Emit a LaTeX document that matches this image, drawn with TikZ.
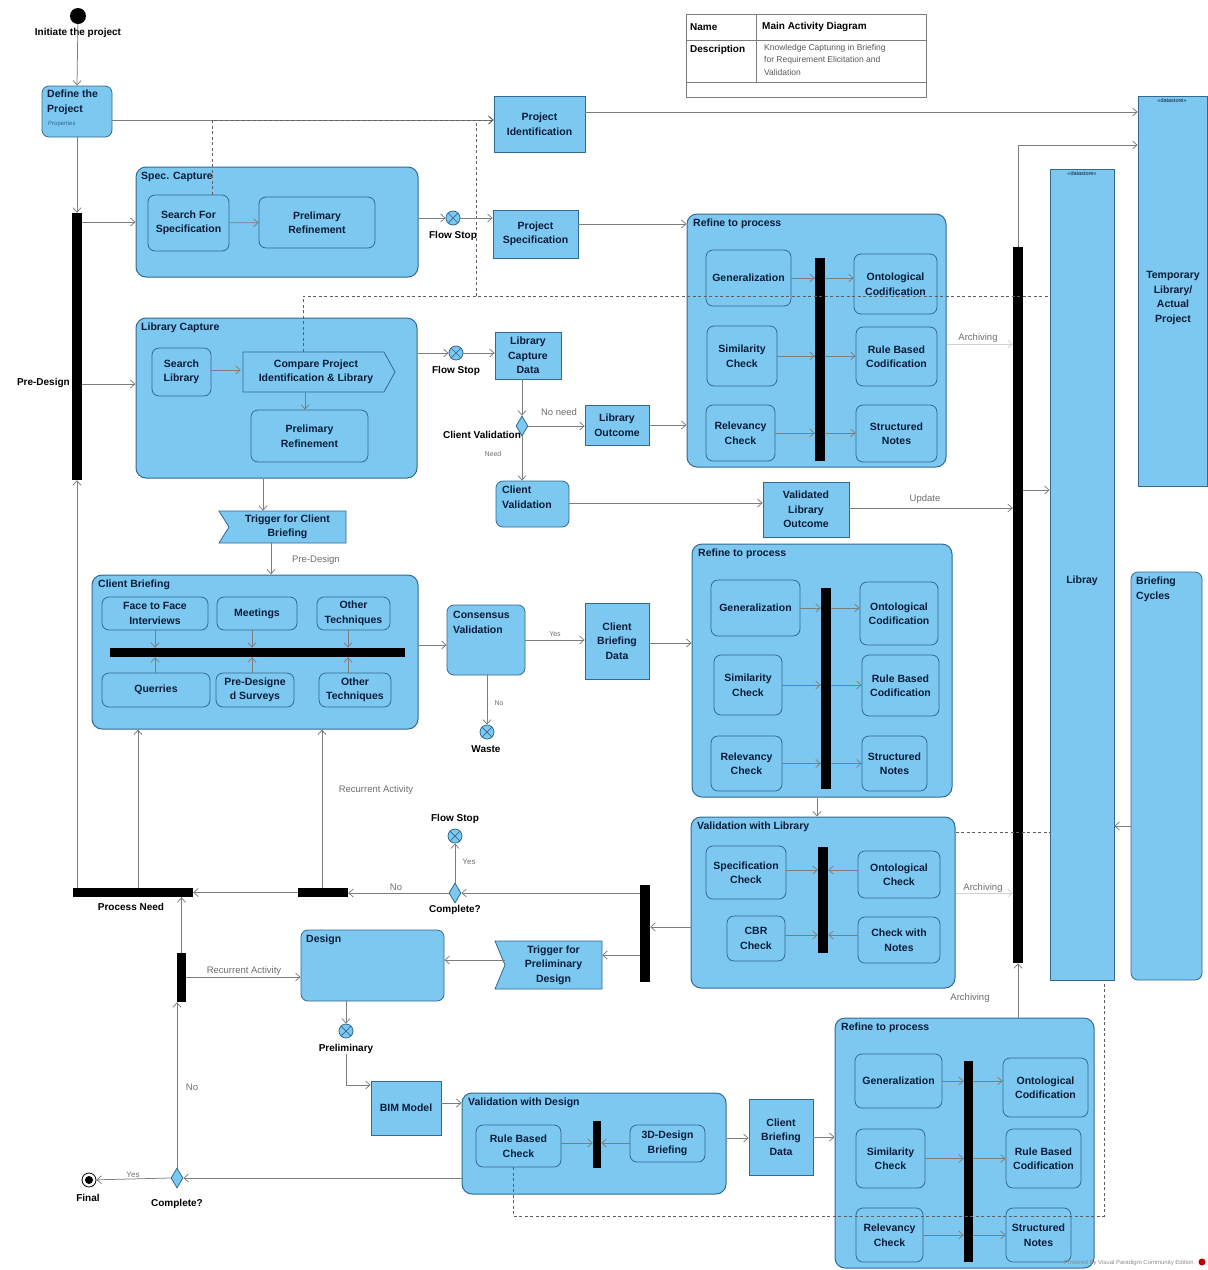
\documentclass[tikz,border=0pt]{standalone}
\usepackage{fontspec}
\setmainfont{Liberation Sans}
\usetikzlibrary{arrows.meta,shapes.geometric}

\definecolor{fl}{RGB}{125,200,240}
\definecolor{bd}{RGB}{50,105,145}
\definecolor{tx}{RGB}{8,28,58}
\definecolor{ln}{RGB}{125,125,125}
\definecolor{dl}{RGB}{95,95,95}
\definecolor{el}{RGB}{110,110,110}

% box spanning x1..x2, y1..y2 (pixel-like units, y downwards)
\newcommand\boxat[7]{\node[#1, minimum width={#5-#3}, minimum height={#6-#4}] (#2) at ({(#3+#5)/2},{(#4+#6)/2}) {#7};}
% flow final node: circle with a cross
\newcommand\flowstop[3]{\node[fstop] (#1) at (#2,#3) {};
  \draw[bd, line width=0.7pt] (#1.north west) -- (#1.south east) (#1.north east) -- (#1.south west);}
% signal-like object with a notch on its left side
\newcommand\flagat[6]{\draw[flag] (#2,#3) -- (#4,#3) -- (#4,#5) -- (#2,#5) -- ({#2+10},{(#3+#5)/2}) -- cycle;
  \node[base, minimum width={#4-#2-10}, minimum height={#5-#3}] (#1) at ({(#2+#4)/2+5},{(#3+#5)/2}) {#6};}

\tikzset{
  base/.style={inner sep=1pt, align=center, text=tx, font=\fontsize{10.5}{14.5}\selectfont\bfseries},
  act/.style={base, draw=bd, fill=fl, line width=0.8pt, rounded corners=7pt},
  obj/.style={base, draw=bd, fill=fl, line width=0.8pt},
  grp/.style={draw=bd, fill=fl, line width=1pt, rounded corners=10pt, inner sep=0pt},
  store/.style={draw=bd, fill=fl, line width=0.8pt, inner sep=0pt},
  bar/.style={fill=black, draw=none, inner sep=0pt},
  ttl/.style={inner sep=0pt, anchor=north west, align=left, text=tx, font=\fontsize{10.5}{14.5}\selectfont\bfseries},
  blbl/.style={inner sep=0pt, text=black, font=\fontsize{10}{11}\selectfont\bfseries},
  elbl/.style={inner sep=0pt, text=el, font=\fontsize{9.5}{11}\selectfont},
  conn/.style={draw=ln, line width=0.75pt, -{Straight Barb[length=4.5pt,width=8pt]}},
  faint/.style={draw=ln!35},
  dconn/.style={draw=dl, line width=0.75pt, dash pattern=on 3pt off 2.5pt},
  fstop/.style={circle, draw=bd, fill=fl, line width=0.8pt, minimum size=14pt, inner sep=0pt},
  dec/.style={diamond, draw=bd, fill=fl, line width=0.8pt, minimum width=12pt, minimum height=20pt, inner sep=0pt},
  flag/.style={draw=bd, fill=fl, line width=0.8pt},
  stlbl/.style={inner sep=0pt, text=tx, font=\fontsize{5.5}{6}\selectfont},
}

\begin{document}
\begin{tikzpicture}[x=1pt,y=-1pt]
\fill[white] (0,0) rectangle (1208,1270);
\useasboundingbox (0,0) rectangle (1208,1270);

% ---------- title table ----------
\draw[ln, line width=0.8pt] (686,14) rectangle (926,97);
\draw[ln, line width=0.6pt] (686,40) -- (926,40) (686,82) -- (926,82) (756,14) -- (756,82);
\node[blbl, anchor=west] (tname) at (690,27) {Name};
\node[blbl, anchor=west] (tnameval) at (762,27) {Main Activity Diagram};
\node[blbl, anchor=north west] (tdesc) at (690,45) {Description};
\node[inner sep=0pt, anchor=north west, align=left, text=black!65,
      font=\fontsize{8.5}{12.5}\selectfont] (tdescval) at (764,44)
      {Knowledge Capturing in Briefing\\for Requirement Elicitation and\\Validation};

% ---------- datastores and cycles column ----------
\boxat{store}{tmplib}{1138}{96}{1207}{486}{}
\node[stlbl] (tmplibst) at (1172,101) {«datastore»};
\node[base] (tmplibtxt) at (1173,298) {Temporary\\Library/\\Actual\\Project};
\boxat{store}{libcol}{1050}{169}{1114}{980}{}
\node[stlbl] (libcolst) at (1082,174) {«datastore»};
\node[base] (libcoltxt) at (1082,581) {Libray};
\boxat{act}{brief}{1131}{572}{1202}{980}{}
\node[ttl] (brieftxt) at (1136,577) {Briefing\\Cycles};

% ---------- start ----------
\node[circle, fill=black, minimum size=16pt, inner sep=0pt] (init) at (78,16) {};
\node[blbl] (initlbl) at (78,33) {Initiate the project};
\boxat{act}{define}{42}{86}{112}{137}{}
\node[ttl] (definetxt) at (47,90) {Define the\\Project};
\node[inner sep=0pt, anchor=north west, text=bd, font=\fontsize{6}{7}\selectfont] (defineprop) at (48,121) {Properties};

\boxat{obj}{pid}{494}{96}{585}{152}{Project\\Identification}

% ---------- Pre-Design fork ----------
\boxat{bar}{pdbar}{72}{213}{82}{480}{}
\node[blbl, anchor=east] (pdlbl) at (70,383) {Pre-Design};

% ---------- Spec. Capture ----------
\boxat{grp}{specgrp}{136}{167}{418}{277}{}
\node[ttl] (specttl) at (141,172) {Spec. Capture};
\boxat{act}{ssearch}{148}{195}{229}{251}{Search For\\Specification}
\boxat{act}{sprelim}{259}{197}{375}{248}{Prelimary\\Refinement}
\flowstop{fs1}{453}{218}
\node[blbl] (fs1lbl) at (453,236) {Flow Stop};
\boxat{obj}{pspec}{493}{210}{578}{258}{Project\\Specification}

% ---------- Library Capture ----------
\boxat{grp}{lcap}{136}{318}{417}{478}{}
\node[ttl] (lcapttl) at (141,323) {Library Capture};
\boxat{act}{slib}{152}{348}{211}{396}{Search\\Library}
\draw[flag] (243,352) -- (384,352) -- (395,372) -- (384,392) -- (243,392) -- cycle;
\node[base, minimum width=150pt, minimum height=40pt] (compare) at (316,372) {Compare Project\\Identification \& Library};
\boxat{act}{lprelim}{251}{410}{368}{462}{Prelimary\\Refinement}
\flowstop{fs2}{456}{353}
\node[blbl] (fs2lbl) at (456,371) {Flow Stop};
\boxat{obj}{lcd}{495}{332}{561}{379}{Library\\Capture\\Data}
\node[dec] (dec1) at (522,426) {};
\node[blbl] (dec1lbl) at (482,435) {Client Validation};
\boxat{obj}{lout}{585}{405}{649}{445}{Library\\Outcome}
\boxat{act}{cval}{496}{481}{569}{527}{}
\node[ttl] (cvaltxt) at (502,486) {Client\\Validation};
\boxat{obj}{vlo}{763}{482}{849}{537}{Validated\\Library\\Outcome}

% ---------- Refine to process (1) ----------
\boxat{grp}{ref1}{687}{214}{946}{467}{}
\node[ttl] (ref1ttl) at (693,219) {Refine to process};
\boxat{act}{r1gen}{706}{250}{791}{306}{Generalization}
\boxat{act}{r1ont}{854}{254}{937}{314}{Ontological\\Codification}
\boxat{act}{r1sim}{707}{326}{777}{386}{Similarity\\Check}
\boxat{act}{r1rule}{856}{327}{937}{386}{Rule Based\\Codification}
\boxat{act}{r1rel}{706}{405}{775}{461}{Relevancy\\Check}
\boxat{act}{r1notes}{856}{405}{937}{462}{Structured\\Notes}
\boxat{bar}{r1bar}{815}{258}{825}{461}{}

% ---------- archiving join ----------
\boxat{bar}{arcbar}{1013}{247}{1023}{963}{}

% ---------- Client Briefing ----------
\flagat{trig1}{219}{511}{346}{543}{Trigger for Client\\Briefing}
\boxat{grp}{cbrief}{92}{575}{418}{729}{}
\node[ttl] (cbriefttl) at (98,580) {Client Briefing};
\boxat{act}{f2f}{102}{597}{208}{630}{Face to Face\\Interviews}
\boxat{act}{meet}{217}{597}{297}{630}{Meetings}
\boxat{act}{oth1}{317}{597}{390}{630}{Other\\Techniques}
\boxat{bar}{cbbar}{110}{648}{405}{657}{}
\boxat{act}{quer}{102}{673}{210}{707}{Querries}
\boxat{act}{pds}{216}{673}{294}{707}{Pre-Designe\\d Surveys}
\boxat{act}{oth2}{319}{673}{391}{707}{Other\\Techniques}
\boxat{act}{cons}{447}{605}{525}{675}{}
\node[ttl] (constxt) at (453,611) {Consensus\\Validation};
\boxat{obj}{cbd}{585}{603}{649}{679}{Client\\Briefing\\Data}
\flowstop{waste}{487}{732}
\node[blbl] (wastelbl) at (486,749) {Waste};

% ---------- Refine to process (2) ----------
\boxat{grp}{ref2}{692}{544}{952}{797}{}
\node[ttl] (ref2ttl) at (698,549) {Refine to process};
\boxat{act}{r2gen}{711}{580}{800}{636}{Generalization}
\boxat{act}{r2ont}{860}{582}{938}{645}{Ontological\\Codification}
\boxat{act}{r2sim}{714}{655}{782}{715}{Similarity\\Check}
\boxat{act}{r2rule}{862}{655}{939}{716}{Rule Based\\Codification}
\boxat{act}{r2rel}{711}{736}{782}{791}{Relevancy\\Check}
\boxat{act}{r2notes}{862}{736}{927}{791}{Structured\\Notes}
\boxat{bar}{r2bar}{821}{588}{831}{789}{}

% ---------- Validation with Library ----------
\boxat{grp}{vwl}{691}{817}{955}{988}{}
\node[ttl] (vwlttl) at (697,822) {Validation with Library};
\boxat{act}{spc}{706}{846}{786}{899}{Specification\\Check}
\boxat{act}{ontc}{858}{851}{940}{898}{Ontological\\Check}
\boxat{act}{cbr}{727}{916}{785}{961}{CBR\\Check}
\boxat{act}{cwn}{858}{917}{940}{963}{Check with\\Notes}
\boxat{bar}{vbar}{818}{847}{828}{953}{}

% ---------- completion loop ----------
\boxat{bar}{dbar}{640}{885}{650}{982}{}
\node[dec] (dec2) at (455,893) {};
\node[blbl] (dec2lbl) at (455,910) {Complete?};
\flowstop{fs3}{455}{836}
\node[blbl] (fs3lbl) at (455,819) {Flow Stop};
\boxat{bar}{sbar}{298}{888}{348}{897}{}
\boxat{bar}{pnbar}{73}{888}{193}{897}{}
\node[blbl] (pnlbl) at (131,907) {Process Need};
\flagat{trig2}{495}{941}{602}{989}{Trigger for\\Preliminary\\Design}

% ---------- Design ----------
\boxat{act}{design}{301}{930}{444}{1001}{}
\node[ttl] (designttl) at (306,935) {Design};
\boxat{bar}{rbar}{177}{953}{186}{1002}{}
\flowstop{fs4}{346}{1031}
\node[blbl] (fs4lbl) at (346,1049) {Preliminary};
\boxat{obj}{bim}{371}{1081}{441}{1135}{BIM Model}
\boxat{grp}{vwd}{462}{1093}{726}{1194}{}
\node[ttl] (vwdttl) at (468,1098) {Validation with Design};
\boxat{act}{rbc}{476}{1125}{561}{1167}{Rule Based\\Check}
\boxat{bar}{vdbar}{593}{1121}{601}{1168}{}
\boxat{act}{d3d}{630}{1125}{705}{1162}{3D-Design\\Briefing}
\boxat{obj}{cbd3}{749}{1099}{813}{1175}{Client\\Briefing\\Data}
\node[dec] (dec3) at (177,1178) {};
\node[blbl] (dec3lbl) at (177,1204) {Complete?};
\node[circle, draw=black, fill=white, line width=0.8pt, minimum size=14pt, inner sep=0pt] (final) at (89,1180) {};
\fill[black] (final.center) circle (4pt);
\node[blbl] (finallbl) at (88,1198) {Final};

% ---------- Refine to process (3) ----------
\boxat{grp}{ref3}{835}{1018}{1094}{1268}{}
\node[ttl] (ref3ttl) at (841,1023) {Refine to process};
\boxat{act}{r3gen}{855}{1054}{942}{1108}{Generalization}
\boxat{act}{r3ont}{1003}{1058}{1088}{1117}{Ontological\\Codification}
\boxat{act}{r3sim}{856}{1129}{925}{1188}{Similarity\\Check}
\boxat{act}{r3rule}{1006}{1129}{1081}{1188}{Rule Based\\Codification}
\boxat{act}{r3rel}{856}{1208}{923}{1262}{Relevancy\\Check}
\boxat{act}{r3notes}{1006}{1208}{1071}{1262}{Structured\\Notes}
\boxat{bar}{r3bar}{964}{1061}{973}{1262}{}

% ---------- connectors: top ----------
\draw[conn] (init) -- (define.north);
\draw[conn] (define.east |- 0,120) -- (pid.west |- 0,120);
\draw[conn] (pid.east |- 0,112) -- (tmplib.west |- 0,112);
\draw[dconn, -{Straight Barb[length=4.5pt,width=8pt]}] (ssearch.north -| 212,0) |- (pid.west |- 0,120);
\coordinate (dj) at (476,296);
\draw[dconn] (dj) -- (dj |- 0,121);
\draw[dconn] (compare.north -| 303,0) |- (libcol.west |- 0,296);
\draw[conn] (define.south) -- (pdbar.north);
\draw[conn] (pdbar.east |- specgrp.west) -- (specgrp.west);
\draw[conn] (ssearch) -- (sprelim);
\draw[conn] (specgrp.east |- fs1) -- (fs1);
\draw[conn] (fs1) -- (fs1 -| pspec.west);
\draw[conn] (pspec.east |- 0,224) -- (ref1.west |- 0,224);

% ---------- connectors: library capture ----------
\draw[conn] (pdbar.east |- 0,384) -- (lcap.west |- 0,384);
\draw[conn] (slib.east |- 0,370) -- (compare.west |- 0,370);
\draw[conn] (compare.south -| 305,0) -- (lprelim.north -| 305,0);
\draw[conn] (lcap.east |- fs2) -- (fs2);
\draw[conn] (fs2) -- (fs2 -| lcd.west);
\draw[conn] (lcd.south -| dec1) -- (dec1.north);
\draw[conn] (dec1.east) -- (dec1.east -| lout.west);
\node[elbl] (noneed) at (559,412) {No need};
\draw[conn] (lout.east) -- (lout.east -| ref1.west);
\draw[conn] (dec1.south) -- (cval.north -| dec1);
\node[elbl, font=\fontsize{7}{8}\selectfont] (needlbl) at (493,454) {Need};
\draw[conn] (cval.east |- 0,503) -- (vlo.west |- 0,503);
\draw[conn] (vlo.east |- 0,508) -- (arcbar.west |- 0,508);
\node[elbl] (updlbl) at (925,499) {Update};

% ---------- connectors: refine (1) ----------
\draw[conn] (r1gen) -- (r1gen -| r1bar.west);
\draw[conn] (r1bar.east |- r1gen) -- (r1ont.west |- r1gen);
\draw[conn] (r1sim) -- (r1sim -| r1bar.west);
\draw[conn] (r1bar.east |- r1sim) -- (r1rule.west |- r1sim);
\draw[conn] (r1rel) -- (r1rel -| r1bar.west);
\draw[conn] (r1bar.east |- r1rel) -- (r1notes.west |- r1rel);

% ---------- connectors: archiving ----------
\draw[conn] (arcbar.north) |- (tmplib.west |- 0,145);
\draw[conn, faint] (ref1.east |- 0,344) -- (arcbar.west |- 0,344);
\node[elbl] (arch1) at (978,338) {Archiving};
\draw[conn] (arcbar.east |- 0,490) -- (libcol.west |- 0,490);
\draw[conn] (brief.west |- 0,826) -- (libcol.east |- 0,826);
\draw[dconn] (vwl.east |- 0,832) -- (libcol.west |- 0,832);
\draw[conn, faint] (vwl.east |- 0,893) -- (arcbar.west |- 0,893);
\node[elbl] (arch2) at (983,888) {Archiving};
\draw[conn] (ref3.north -| arcbar) -- (arcbar.south);
\node[elbl] (arch3) at (970,998) {Archiving};

% ---------- connectors: client briefing ----------
\draw[conn] (lcap.south -| 263,0) -- (trig1.north -| 263,0);
\draw[conn] (trig1.south -| 271,0) -- (cbrief.north -| 271,0);
\node[elbl] (predlbl) at (316,560) {Pre-Design};
\foreach \n/\x in {f2f/155, meet/252, oth1/348} {
  \draw[conn] (\n.south -| \x,0) -- (cbbar.north -| \x,0);
}
\foreach \n/\x in {quer/155, pds/252, oth2/348} {
  \draw[conn] (\n.north -| \x,0) -- (cbbar.south -| \x,0);
}
\draw[conn] (cbrief.east |- 0,645) -- (cons.west |- 0,645);
\draw[conn] (cons.east |- 0,640) -- (cbd.west |- 0,640);
\node[elbl, font=\fontsize{7}{8}\selectfont] (yes1) at (555,634) {Yes};
\draw[conn] (cbd.east |- 0,643) -- (ref2.west |- 0,643);
\draw[conn] (cons.south -| waste) -- (waste);
\node[elbl, font=\fontsize{7}{8}\selectfont] (no1) at (499,703) {No};

% ---------- connectors: refine (2) and validation with library ----------
\draw[conn] (r2gen) -- (r2gen -| r2bar.west);
\draw[conn] (r2bar.east |- r2gen) -- (r2ont.west |- r2gen);
\draw[conn] (r2sim) -- (r2sim -| r2bar.west);
\draw[conn] (r2bar.east |- r2sim) -- (r2rule.west |- r2sim);
\draw[conn] (r2rel) -- (r2rel -| r2bar.west);
\draw[conn] (r2bar.east |- r2rel) -- (r2notes.west |- r2rel);
\draw[conn] (ref2.south -| 817,0) -- (vwl.north -| 817,0);
\draw[conn] (spc.east |- 0,870) -- (vbar.west |- 0,870);
\draw[conn] (ontc.west |- 0,870) -- (vbar.east |- 0,870);
\draw[conn] (cbr.east |- 0,935) -- (vbar.west |- 0,935);
\draw[conn] (cwn.west |- 0,935) -- (vbar.east |- 0,935);
\draw[conn] (vwl.west |- 0,927) -- (dbar.east |- 0,927);

% ---------- connectors: completion loop ----------
\draw[conn] (dbar.west |- dec2) -- (dec2.east);
\draw[conn] (dbar.west |- 0,955) -- (trig2.east |- 0,955);
\draw[conn] (dec2.north) -- (fs3);
\node[elbl, font=\fontsize{8}{9}\selectfont] (yes2) at (469,862) {Yes};
\draw[conn] (dec2.west) -- (dec2.west -| sbar.east);
\node[elbl] (no2) at (396,887) {No};
\draw[conn] (sbar.west) -- (sbar.west -| pnbar.east);
\draw[conn] (sbar.north -| 322,0) -- (cbrief.south -| 322,0);
\node[elbl] (rec1) at (376,790) {Recurrent Activity};
\draw[conn] (pnbar.north -| 138,0) -- (cbrief.south -| 138,0);
\draw[conn] (pnbar.north -| pdbar) -- (pdbar.south);
\draw[conn] (trig2.west |- 0,960) -- (design.east |- 0,960);

% ---------- connectors: design ----------
\draw[conn] (rbar.east |- 0,977) -- (design.west |- 0,977);
\node[elbl] (rec2) at (244,971) {Recurrent Activity};
\draw[conn] (rbar.north) -- (rbar.north |- pnbar.south);
\draw[conn] (dec3.north) -- (dec3.north |- rbar.south);
\node[elbl] (no3) at (192,1087) {No};
\draw[conn] (dec3.west) -- (final);
\node[elbl, font=\fontsize{8}{9}\selectfont] (yes3) at (133,1175) {Yes};
\draw[conn] (vwd.west |- dec3) -- (dec3.east);
\draw[conn] (design.south -| fs4) -- (fs4);
\draw[conn] (fs4lbl.south) |- (bim.west |- 0,1085);
\draw[conn] (bim.east |- 0,1103) -- (vwd.west |- 0,1103);
\draw[conn] (rbc.east |- 0,1143) -- (vdbar.west |- 0,1143);
\draw[conn] (d3d.west |- 0,1143) -- (vdbar.east |- 0,1143);
\draw[conn] (vwd.east |- 0,1138) -- (cbd3.west |- 0,1138);
\draw[conn] (cbd3.east |- 0,1137) -- (ref3.west |- 0,1137);
\draw[dconn] (rbc.south -| 513,0) |- (1104,1216) -- (libcol.south -| 1104,0);

% ---------- connectors: refine (3) ----------
\draw[conn] (r3gen) -- (r3gen -| r3bar.west);
\draw[conn] (r3bar.east |- r3gen) -- (r3ont.west |- r3gen);
\draw[conn] (r3sim) -- (r3sim -| r3bar.west);
\draw[conn] (r3bar.east |- r3sim) -- (r3rule.west |- r3sim);
\draw[conn] (r3rel) -- (r3rel -| r3bar.west);
\draw[conn] (r3bar.east |- r3rel) -- (r3notes.west |- r3rel);

% ---------- edition stamp ----------
\node[inner sep=0pt, anchor=east, text=black!45, font=\fontsize{6}{7}\selectfont] (stamp) at (1194,1263) {Powered By Visual Paradigm Community Edition};
\node[circle, fill=red!75!black, minimum size=7pt, inner sep=0pt] (stampicon) at (1202,1262) {};
\end{tikzpicture}
\end{document}
